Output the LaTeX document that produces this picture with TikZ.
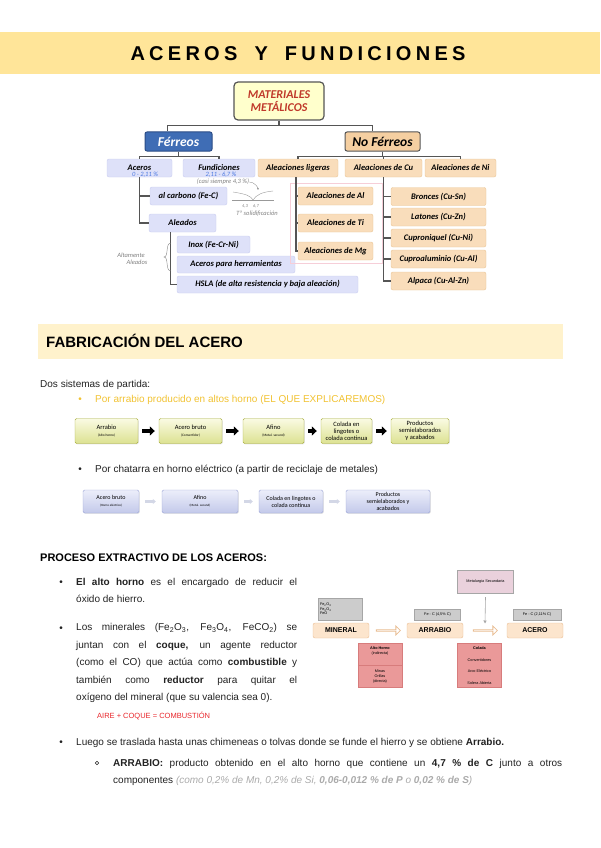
\documentclass[tikz,border=0pt]{standalone}
\usepackage{fontspec}
\setmainfont{Liberation Sans}
\newfontfamily\calfont{Carlito}
\usetikzlibrary{positioning, calc, arrows.meta, shapes.arrows, shadows}
\definecolor{titleband}{HTML}{FFE599}
\definecolor{secband}{HTML}{FFF2CC}
\definecolor{lavfill}{HTML}{DEE1F9}
\definecolor{lavline}{HTML}{C9CDEF}
\definecolor{tanfill}{HTML}{F9DDBB}
\definecolor{tanline}{HTML}{E9C595}
\definecolor{treeline}{HTML}{555555}
\definecolor{matfill}{HTML}{FFFFCC}
\definecolor{matred}{HTML}{C0392B}
\definecolor{ferblue}{HTML}{3F6DB5}
\definecolor{ferline}{HTML}{2B4C86}
\definecolor{noferfill}{HTML}{F5CFA1}
\definecolor{handblue}{HTML}{4B78E0}
\definecolor{pinkline}{HTML}{F6CED8}
\definecolor{flowytop}{HTML}{FAFBE3}
\definecolor{flowybot}{HTML}{DCE191}
\definecolor{flowyline}{HTML}{A7AD3C}
\definecolor{flowbtop}{HTML}{ECEEFA}
\definecolor{flowbbot}{HTML}{C3C9EA}
\definecolor{flowbline}{HTML}{9CA5D6}
\definecolor{flowbarrow}{HTML}{D3D7E6}
\definecolor{golden}{HTML}{F1C232}
\definecolor{bodytext}{HTML}{222222}
\definecolor{airered}{HTML}{E8262B}
\definecolor{mineralfill}{HTML}{FCE5CD}
\definecolor{mineralline}{HTML}{E9BD93}
\definecolor{greyfill}{HTML}{CCCCCC}
\definecolor{greyline}{HTML}{A6A6A6}
\definecolor{metfill}{HTML}{EAD1DC}
\definecolor{redfill}{HTML}{EA9999}
\definecolor{redline}{HTML}{D77C7C}
\definecolor{fadegray}{HTML}{AAAAAA}

\begin{document}
\begin{tikzpicture}[x=1pt, y=-1pt,
    cmap/.style={font=\calfont\bfseries\itshape\fontsize{8.5}{9.5}\selectfont, rounded corners=2pt, inner sep=0pt, align=center, minimum height=18pt},
    lav/.style={cmap, fill=lavfill, draw=lavline},
    tanbox/.style={cmap, fill=tanfill, draw=tanline},
    tree/.style={draw=treeline, line width=1.1pt},
    hand/.style={font=\calfont\itshape\fontsize{6.5}{7}\selectfont, inner sep=0pt, align=center},
    flowy/.style={draw=flowyline, top color=flowytop, bottom color=flowybot, rounded corners=1.5pt, inner sep=0pt, align=center, font=\calfont\fontsize{6.5}{7.2}\selectfont, drop shadow={opacity=0.2, shadow xshift=0.8pt, shadow yshift=-0.8pt}, minimum height=25pt},
    flowb/.style={draw=flowbline, top color=flowbtop, bottom color=flowbbot, rounded corners=1.5pt, inner sep=0pt, align=center, font=\calfont\fontsize{6}{7}\selectfont, drop shadow={opacity=0.2, shadow xshift=0.8pt, shadow yshift=-0.8pt}, minimum height=23pt},
    blk/.style={line width=3.5pt, -{Triangle[length=5pt, width=9pt]}, shorten <=4pt, shorten >=4pt},
    pale/.style={draw=flowbarrow, line width=2.5pt, -{Triangle[length=3pt, width=5pt]}, shorten <=6pt, shorten >=6pt},
    body/.style={font=\fontsize{10}{17.5}\selectfont, text=bodytext, inner sep=0pt},
    para/.style={body, text width=#1, align=justify, anchor=north west},
    dot/.style={body, anchor=base},
    mini/.style={font=\fontsize{3.8}{5}\selectfont, inner sep=0pt, align=center},
    minbox/.style={fill=mineralfill, draw=mineralline, rounded corners=2pt, minimum width=56pt, minimum height=15pt, inner sep=0pt, font=\bfseries\fontsize{7}{8}\selectfont},
    greybox/.style={fill=greyfill, draw=greyline, inner sep=0pt, font=\fontsize{3.8}{4.6}\selectfont},
    hollow/.style={single arrow, draw=mineralline, line width=0.8pt, fill=white, minimum height=24pt, minimum width=9pt, single arrow head extend=2pt, inner sep=0pt},
    redbox/.style={fill=redfill, draw=redline, inner sep=0pt, minimum width=44pt, minimum height=44pt},
]
\useasboundingbox (0,0) rectangle (600,848);

% title
\fill[titleband] (0,32) rectangle (600,74);
\node[font=\bfseries\fontsize{20}{22}\selectfont, inner sep=0pt] (title) at (298,53.5)
  {\makebox[335pt][s]{A\hfil C\hfil E\hfil R\hfil O\hfil S\hfil\hfil\hfil\hfil Y\hfil\hfil\hfil\hfil F\hfil U\hfil N\hfil D\hfil I\hfil C\hfil I\hfil O\hfil N\hfil E\hfil S}};

% concept map
\node[cmap, font=\calfont\bfseries\itshape\fontsize{12}{13.5}\selectfont, text=matred, fill=matfill, draw=treeline, line width=1.2pt, rounded corners=4pt, minimum width=90pt, minimum height=38pt] (mat) at (279,101) {MATERIALES\\METÁLICOS};
\node[cmap, font=\calfont\bfseries\itshape\fontsize{13.5}{14}\selectfont, text=white, fill=ferblue, draw=ferline, line width=1pt, minimum width=67pt, minimum height=19pt] (fer) at (178.5,141.5) {Férreos};
\node[cmap, font=\calfont\bfseries\itshape\fontsize{13.5}{14}\selectfont, fill=noferfill, draw=treeline, line width=1pt, minimum width=75pt, minimum height=19pt] (nofer) at (382.5,141.5) {No Férreos};

\node[lav, minimum width=65pt] (aceros) at (139.5,168) {Aceros};
\node[lav, minimum width=72pt] (fund) at (219,168) {Fundiciones};
\node[tanbox, minimum width=80pt] (alig) at (298,168) {Aleaciones ligeras};
\node[tanbox, minimum width=77pt] (alcu) at (383.5,168) {Aleaciones de Cu};
\node[tanbox, minimum width=71pt] (alni) at (460.5,168) {Aleaciones de Ni};

\node[lav, minimum width=77pt] (carb) at (188.5,196) {al carbono (Fe-C)};
\node[lav, minimum width=67pt] (aleados) at (182.5,223) {Aleados};
\node[lav, minimum width=73pt, minimum height=17pt] (inox) at (213.5,244.5) {Inox (Fe-Cr-Ni)};
\node[lav, minimum width=118pt, minimum height=17pt] (herr) at (236,264.5) {Aceros para herramientas};
\node[lav, minimum width=181pt, minimum height=17pt] (hsla) at (267.5,284.5) {HSLA (de alta resistencia y baja aleación)};

\draw[pinkline, line width=0.6pt] (290,183) rectangle (382,263);
\node[tanbox, minimum width=75pt] (al) at (335.5,196) {Aleaciones de Al};
\node[tanbox, minimum width=75pt] (ti) at (335.5,223) {Aleaciones de Ti};
\node[tanbox, minimum width=75pt] (mg) at (335.5,251) {Aleaciones de Mg};

\node[tanbox, minimum width=95pt] (bron) at (438.5,196.5) {Bronces (Cu-Sn)};
\node[tanbox, minimum width=95pt] (lat) at (438.5,217) {Latones (Cu-Zn)};
\node[tanbox, minimum width=95pt] (cupni) at (438.5,238) {Cuproniquel (Cu-Ni)};
\node[tanbox, minimum width=95pt] (cupal) at (438.5,259) {Cuproaluminio (Cu-Al)};
\node[tanbox, minimum width=95pt] (alp) at (438.5,281) {Alpaca (Cu-Al-Zn)};

\draw[tree] (mat.south) -- ++(0,5) -| ($(fer.north)+(-11,0)$);
\draw[tree] (mat.south) -- ++(0,5) -| ($(nofer.north)+(-10,0)$);
\draw[tree] (fer.south) -- ++(0,5) -| (aceros.north);
\draw[tree] (fer.south) -- ++(0,5) -| (fund.north);
\foreach \n in {alig,alcu,alni}
  \draw[tree] (nofer.south) -- ++(0,5) -| (\n.north);
\draw[tree] (aceros.south) |- (carb.west);
\draw[tree] (aceros.south) |- (aleados.west);
\draw[tree] ($(aleados.south west)+(22,0)$) |- (hsla.west);
\foreach \n in {al,ti,mg}
  \draw[tree] ($(alig.south)+(-2,0)$) |- (\n.west);
\foreach \n in {bron,lat,cupni,cupal,alp}
  \draw[tree] (alcu.south) |- (\n.west);

% handwritten notes
\node[hand, text=handblue] (acnote) at (145,175) {0 - 2,11 \%};
\node[hand, text=handblue] (fundnote) at (221,175) {2,11 - 6,7 \%};
\node[hand, text=gray] (casi) at (223,182) {(casi siempre 4,3 \%)};
\draw[gray, line width=0.3pt, -{Stealth[length=2pt]}] (casi.east) .. controls +(5,0) and +(0,-3) .. (258,190);
\draw[gray!80, line width=0.4pt] (233,192) .. controls (246,194) and (251,196) .. (253,200) .. controls (256,195) and (262,192) .. (273,191);
\draw[gray!80, line width=0.4pt] (232,200) -- (274,200);
\node[hand, text=gray, font=\calfont\itshape\fontsize{4.5}{5}\selectfont] (g1) at (245,206) {4,3};
\node[hand, text=gray, font=\calfont\itshape\fontsize{4.5}{5}\selectfont] (g2) at (256,206) {6,7};
\node[hand, text=gray] (tsol) at (257,214) {Tª solidificación};
\node[hand, text=gray] (altam) at (131,259) {Altamente\\\hspace*{12pt}Aleados};
\draw[gray, line width=0.4pt] (171,243) .. controls (165,243) and (169,257) .. (164,257) .. controls (169,257) and (165,271) .. (171,271);

% fabricacion
\fill[secband] (38,324) rectangle (563,359);
\node[font=\bfseries\fontsize{15}{17}\selectfont, anchor=base west, inner sep=0pt] (fab) at (46,347) {FABRICACIÓN DEL ACERO};
\node[body, anchor=base west] (dos) at (40,387) {Dos sistemas de partida:};
\node[dot, text=golden] (b1) at (80,402.5) {•};
\node[body, anchor=base west, text=golden] (por1) at (95,402.5) {Por arrabio producido en altos horno (EL QUE EXPLICAREMOS)};

\node[flowy, minimum width=63pt] (f1) at (106.5,431) {Arrabio\\{\fontsize{3.5}{4.5}\selectfont(Alto horno)}};
\node[flowy, minimum width=63pt] (f2) at (190.5,431) {Acero bruto\\{\fontsize{3.5}{4.5}\selectfont(Convertidor)}};
\node[flowy, minimum width=61pt] (f3) at (273.5,431) {Afino\\{\fontsize{3.5}{4.5}\selectfont(Metal. secund)}};
\node[flowy, minimum width=51pt] (f4) at (346.5,431) {Colada en\\lingotes o\\colada continua};
\node[flowy, minimum width=58pt] (f5) at (420,431) {Productos\\semielaborados\\y acabados};
\foreach \a/\b in {f1/f2,f2/f3,f3/f4,f4/f5}
  \draw[blk] (\a) -- (\b);

\node[dot] (b2) at (80,472.5) {•};
\node[body, anchor=base west] (por2) at (95,472.5) {Por chatarra en horno eléctrico (a partir de reciclaje de metales)};

\node[flowb, minimum width=56pt] (h1) at (111,501.5) {Acero bruto\\{\fontsize{3.2}{4.2}\selectfont(Horno eléctrico)}};
\node[flowb, minimum width=76pt] (h2) at (200,501.5) {Afino\\{\fontsize{3.2}{4.2}\selectfont(Metal. secund)}};
\node[flowb, minimum width=64pt] (h3) at (291,501.5) {Colada en lingotes o\\colada continua};
\node[flowb, minimum width=84pt] (h4) at (388,501.5) {Productos\\semielaborados y\\acabados};
\foreach \a/\b in {h1/h2,h2/h3,h3/h4}
  \draw[pale] (\a) -- (\b);

% proceso extractivo
\node[font=\bfseries\fontsize{11}{13}\selectfont, anchor=base west, inner sep=0pt] (proc) at (40,561) {PROCESO EXTRACTIVO DE LOS ACEROS:};
\node[dot] (b3) at (61,585.5) {•};
\node[para=221pt] (alto) at (76,578) {\textbf{El alto horno} es el encargado de reducir el\linebreak óxido de hierro.};
\node[dot] (b4) at (61,631) {•};
\node[para=221pt] (minr) at (76,623.5) {Los minerales (Fe\textsubscript{2}O\textsubscript{3}, Fe\textsubscript{3}O\textsubscript{4}, FeCO\textsubscript{2}) se\linebreak juntan con el \textbf{coque,} un agente reductor\linebreak (como el CO) que actúa como \textbf{combustible} y\linebreak también como \textbf{reductor} para quitar el\linebreak oxígeno del mineral (que su valencia sea 0).};
\node[font=\fontsize{7.5}{9}\selectfont, text=airered, anchor=base west, inner sep=0pt] (aire) at (97,718) {AIRE + COQUE = COMBUSTIÓN};

% esquema alto horno
\node[fill=metfill, draw=greyline, inner sep=0pt, minimum width=56pt, minimum height=23pt, font=\fontsize{3.8}{4.6}\selectfont] (metsec) at (485.5,581.5) {Metalurgia Secundaria};
\node[greybox, minimum width=44pt, minimum height=22pt, text width=40pt, align=left] (ox) at (340,609) {Fe\textsubscript{2}O\textsubscript{3}\\Fe\textsubscript{3}O\textsubscript{4}\\FeO\\[2pt]};
\node[minbox] (mineral) at (341,630.5) {MINERAL};
\node[minbox] (arrabio) at (435,630.5) {ARRABIO};
\node[minbox] (acero) at (535,630.5) {ACERO};
\node[greybox, minimum width=46pt, minimum height=11pt] (fea) at (437.5,614.5) {Fe - C (4,5\% C)};
\node[greybox, minimum width=48pt, minimum height=11pt] (feb) at (537,614.5) {Fe - C (2,11\% C)};
\node[hollow] (ha) at ($(mineral.east)!0.5!(arrabio.west)$) {};
\node[hollow] (hb) at ($(arrabio.east)!0.5!(acero.west)$) {};
\coordinate (hbtop) at ($(hb.center)+(0,-7)$);
\draw[greyline, line width=0.6pt, -{Triangle[length=3pt, width=3pt]}] (metsec.south) ++(0,4) -- (hbtop);

\node[redbox] (altoh) at (380,665) {};
\draw[redline, line width=0.5pt] (altoh.west) -- (altoh.east);
\node[mini] (altoa) at (380,651) {\textbf{Alto Horno}\\(indirecta)};
\node[mini] (altob) at (380,677) {Minas\\Orillas\\(directa)};
\node[redbox] (colh) at (479.5,665) {};
\node[mini, font=\fontsize{3.8}{11.5}\selectfont] (colt) at (479.5,665.5) {\textbf{Colada}\\Convertidores\\Arco Eléctrico\\Solera Abierta};

% arrabio
\node[dot] (b5) at (61,745.5) {•};
\node[body, anchor=base west] (luego) at (76,745.5) {Luego se traslada hasta unas chimeneas o tolvas donde se funde el hierro y se obtiene \textbf{Arrabio.}};
\draw[bodytext, line width=0.5pt] (97,763) circle (1.8pt);
\node[para=449pt] (arr) at (113,759) {\textbf{ARRABIO:} producto obtenido en el alto horno que contiene un \textbf{4,7 \% de C} junto a otros\linebreak componentes {\color{fadegray}\itshape (como 0,2\% de Mn, 0,2\% de Si, \textbf{0,06-0,012 \% de P} o \textbf{0,02 \% de S})}};
\end{tikzpicture}
\end{document}
